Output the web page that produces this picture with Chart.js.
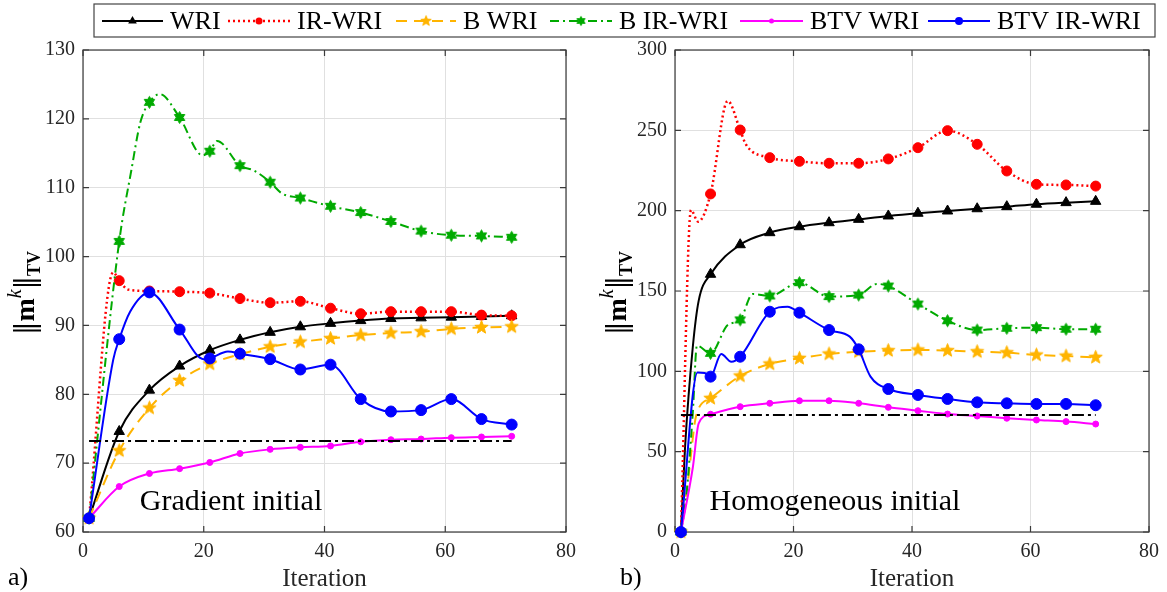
<!DOCTYPE html>
<html>
<head>
<meta charset="utf-8">
<script src="https://cdn.jsdelivr.net/npm/chart.js@4.4.1/dist/chart.umd.min.js"></script>
<style>
  html, body { margin: 0; padding: 0; background: #fff; }
  #wrap { position: relative; width: 1167px; height: 592px; overflow: hidden; }
  canvas { position: absolute; top: 0; }
</style>
</head>
<body>
<div id="wrap">
  <canvas id="gradChart" width="590" height="592" style="left:0"></canvas>
  <canvas id="homChart" width="577" height="592" style="left:590px"></canvas>
  <canvas id="legend" width="1167" height="45" style="left:0"></canvas>
</div>
<script>
const FONT = '"Liberation Serif", "DejaVu Serif", serif';

const seriesNames = ['WRI', 'IR-WRI', 'B WRI', 'B IR-WRI', 'BTV WRI', 'BTV IR-WRI'];
const iterTicks = [0, 20, 40, 60, 80];

// a) Gradient initial
const gradWRI_x = [1, 6, 11, 16, 21, 26, 31, 36, 41, 46, 51, 56, 61, 66, 71];
const gradWRI_y = [62, 74.6, 80.6, 84.1, 86.4, 87.9, 89.0, 89.8, 90.3, 90.7, 91.0, 91.1, 91.2, 91.3, 91.4];
const gradIR_x = [1, 5, 6, 7.5, 11, 16, 21, 26, 31, 36, 41, 46, 51, 56, 61, 66, 71];
const gradIR_y = [62, 97.7, 96.5, 95.2, 95.0, 94.9, 94.7, 93.9, 93.3, 93.5, 92.5, 91.7, 92.0, 92.0, 92.0, 91.5, 91.4];
const gradBW_x = [1, 6, 11, 16, 21, 26, 31, 36, 41, 46, 51, 56, 61, 66, 71];
const gradBW_y = [62, 71.8, 78.0, 82.0, 84.4, 85.8, 86.9, 87.6, 88.1, 88.6, 88.9, 89.1, 89.5, 89.7, 89.8];
const gradBIR_x = [1, 6, 8, 9.5, 11, 12.7, 16, 19.8, 21, 22.2, 26, 28.3, 31, 32.9, 36, 41, 46, 51, 56, 61, 66, 71];
const gradBIR_y = [62, 102.2, 112.5, 119.5, 122.4, 123.6, 120.2, 114.7, 115.3, 116.8, 113.2, 112.5, 110.8, 109.2, 108.5, 107.3, 106.4, 105.1, 103.7, 103.1, 103.0, 102.8];
const gradBTVW_x = [1, 6, 11, 16, 21, 26, 31, 36, 41, 46, 51, 56, 61, 66, 71];
const gradBTVW_y = [62, 66.6, 68.5, 69.2, 70.1, 71.4, 72.0, 72.3, 72.5, 73.1, 73.4, 73.5, 73.7, 73.8, 73.9];
const gradBTVIR_x = [1, 5, 6, 7.8, 11, 16, 20, 21, 24, 26, 31, 36, 41, 46, 51, 56, 61, 66, 71];
const gradBTVIR_y = [62, 85, 88.0, 92.0, 94.8, 89.4, 85.1, 85.2, 86.2, 85.9, 85.1, 83.6, 84.3, 79.3, 77.5, 77.7, 79.3, 76.4, 75.6];
const gradRef_x = [1, 71];
const gradRef_y = [73.2, 73.2];

// b) Homogeneous initial
const homWRI_x = [1, 1.7, 3, 4, 6, 11, 16, 21, 26, 31, 36, 41, 46, 51, 56, 61, 66, 71];
const homWRI_y = [0, 53, 115, 144, 160.4, 178.8, 186.3, 190.0, 192.5, 194.6, 196.7, 198.4, 199.8, 201.2, 202.5, 204.0, 205.0, 205.8];
const homIR_x = [1, 2.7, 3.9, 6, 8.9, 11, 12, 16, 21, 26, 31, 36, 41, 46, 51, 56, 61, 66, 71];
const homIR_y = [0, 200.4, 193.1, 210.4, 268.3, 250.2, 241, 233.0, 230.7, 229.5, 229.5, 232.2, 239.2, 249.8, 241.3, 224.7, 216.4, 216.0, 215.3];
const homBW_x = [1, 2.2, 3.6, 6, 11, 16, 21, 26, 31, 36, 41, 46, 51, 56, 61, 66, 71];
const homBW_y = [0, 32, 72.8, 83.2, 97.1, 104.6, 108.1, 110.8, 112.2, 112.9, 113.3, 112.9, 112.2, 111.6, 110.2, 109.5, 108.7];
const homBIR_x = [1, 1.9, 3, 3.7, 6, 8.9, 11, 13.1, 16, 21, 26, 31, 34.1, 36, 41, 46, 51, 56, 61, 66, 71];
const homBIR_y = [0, 22, 74, 116, 111.2, 128.8, 132.0, 148.1, 146.9, 155.2, 146.5, 147.5, 154.4, 153.1, 141.9, 131.5, 125.7, 126.8, 127.2, 126.2, 126.2];
const homBTVW_x = [1, 3, 4, 6, 11, 16, 21, 26, 31, 36, 41, 46, 51, 56, 61, 66, 71];
const homBTVW_y = [0, 40, 67.6, 73.3, 78.0, 80.1, 81.7, 81.7, 80.1, 77.6, 75.5, 73.4, 72.2, 70.8, 69.7, 68.7, 67.2];
const homBTVIR_x = [1, 3.8, 5, 6, 7.8, 9.5, 11, 16, 19, 21, 26, 29.5, 31, 33, 36, 41, 46, 51, 56, 61, 66, 71];
const homBTVIR_y = [0, 99.2, 99, 96.7, 110.8, 106, 109.1, 137.1, 140.2, 136.5, 125.7, 121.6, 113.7, 96.7, 89.0, 85.3, 82.8, 80.7, 80.1, 79.7, 79.7, 78.9];
const homRef_x = [1, 71];
const homRef_y = [72.8, 72.8];

// marker images for the star shapes
function starImage(n, rOut, rIn, color) {
  const s = Math.ceil(rOut * 2 + 3);
  const c = document.createElement('canvas');
  c.width = s; c.height = s;
  const g = c.getContext('2d');
  g.fillStyle = color; g.strokeStyle = color; g.lineWidth = 1;
  g.beginPath();
  for (let i = 0; i < 2 * n; i++) {
    const r = i % 2 ? rIn : rOut;
    const a = -Math.PI / 2 + i * Math.PI / n;
    const px = s / 2 + r * Math.cos(a), py = s / 2 + r * Math.sin(a);
    if (i) g.lineTo(px, py); else g.moveTo(px, py);
  }
  g.closePath(); g.fill(); g.stroke();
  return c;
}

const styles = [
  { color: '#000000', width: 2, dash: [], marker: 'triangle', size: 6 },
  { color: '#ff0000', width: 2.5, dash: [2, 3], marker: 'circle', size: 5 },
  { color: '#ffb400', width: 2, dash: [11, 7], marker: starImage(5, 7, 3, '#ffb400'), size: 6 },
  { color: '#00aa00', width: 2, dash: [9, 4, 2, 4], marker: starImage(6, 6, 3.4, '#00aa00'), size: 5 },
  { color: '#ff00ff', width: 2, dash: [], marker: 'circle', size: 3 },
  { color: '#0000ff', width: 2, dash: [], marker: 'circle', size: 5.5 }
];

function series(i, xs, ys) {
  const st = styles[i];
  return {
    label: seriesNames[i],
    data: xs.map((x, k) => ({ x: x, y: ys[k] })),
    borderColor: st.color,
    backgroundColor: st.color,
    borderWidth: st.width,
    borderDash: st.dash,
    pointStyle: st.marker,
    pointBackgroundColor: st.color,
    pointBorderColor: st.color,
    pointBorderWidth: 1,
    pointRadius: c => ((c.raw.x - 1) % 5 === 0 ? st.size : 0),
    cubicInterpolationMode: 'monotone',
    clip: false,
    order: 6 - i
  };
}

function refLine(xs, ys) {
  return {
    label: 'ref',
    data: xs.map((x, k) => ({ x: x, y: ys[k] })),
    borderColor: '#000', borderWidth: 2, borderDash: [12, 4, 3, 4],
    pointRadius: 0, clip: false, order: -1
  };
}

const boxPlugin = {
  id: 'axesBox',
  beforeDatasetsDraw(chart) {
    const { ctx, chartArea: a, scales } = chart;
    ctx.save();
    ctx.strokeStyle = '#3a3a3a';
    ctx.lineWidth = 1.2;
    ctx.strokeRect(a.left, a.top, a.right - a.left, a.bottom - a.top);
    ctx.beginPath();
    scales.x.ticks.forEach(t => {
      const px = scales.x.getPixelForValue(t.value);
      ctx.moveTo(px, a.bottom); ctx.lineTo(px, a.bottom - 6);
      ctx.moveTo(px, a.top); ctx.lineTo(px, a.top + 6);
    });
    scales.y.ticks.forEach(t => {
      const py = scales.y.getPixelForValue(t.value);
      ctx.moveTo(a.left, py); ctx.lineTo(a.left + 6, py);
      ctx.moveTo(a.right, py); ctx.lineTo(a.right - 6, py);
    });
    ctx.stroke();
    ctx.restore();
  }
};

function drawNormLabel(ctx, baseX, cy) {
  const bars = '27px "DejaVu Serif", serif';
  const parts = [
    { t: '\u2016', f: bars, dy: 0 },
    { t: 'm', f: 'bold 28px ' + FONT, dy: 0 },
    { t: 'k', f: 'italic 20px ' + FONT, dy: -13 },
    { t: '\u2016', f: bars, dy: 0 },
    { t: 'TV', f: 'bold 18px ' + FONT, dy: 6 }
  ];
  ctx.save();
  ctx.translate(baseX, cy);
  ctx.rotate(-Math.PI / 2);
  ctx.fillStyle = '#000';
  ctx.textBaseline = 'alphabetic';
  let total = 0;
  parts.forEach(p => { ctx.font = p.f; p.w = ctx.measureText(p.t).width; total += p.w; });
  let x = -total / 2;
  parts.forEach(p => { ctx.font = p.f; ctx.fillText(p.t, x, p.dy); x += p.w; });
  ctx.restore();
}

function textPlugin(cfg) {
  return {
    id: 'panelText',
    afterDraw(chart) {
      const ctx = chart.ctx;
      drawNormLabel(ctx, cfg.labelX, 293);
      ctx.save();
      ctx.fillStyle = '#000';
      ctx.textBaseline = 'alphabetic';
      ctx.font = '26px ' + FONT;
      ctx.textAlign = 'left';
      ctx.fillText(cfg.letter, cfg.letterX, 585);
      ctx.font = '30px ' + FONT;
      ctx.textAlign = 'center';
      ctx.fillText(cfg.caption, cfg.captionX, 510);
      ctx.restore();
    }
  };
}

function options(yMin, yMax, yStep, yWidth, padRight) {
  const tickFont = { family: FONT, size: 20 };
  return {
    responsive: false,
    animation: false,
    devicePixelRatio: 1,
    layout: { padding: { top: 50, right: padRight, left: 0, bottom: 0 } },
    plugins: { legend: { display: false }, tooltip: { enabled: false } },
    scales: {
      x: {
        type: 'linear', min: 0, max: 80,
        afterBuildTicks: s => { s.ticks = iterTicks.map(v => ({ value: v })); },
        ticks: { color: '#262626', font: tickFont, padding: 8, maxRotation: 0 },
        grid: { color: '#e0e0e0', drawTicks: false },
        border: { display: false },
        title: { display: true, text: 'Iteration', color: '#262626',
                 font: { family: FONT, size: 25, lineHeight: 1 }, padding: 0 },
        afterFit: s => { s.height = 60; }
      },
      y: {
        type: 'linear', min: yMin, max: yMax,
        ticks: { stepSize: yStep, color: '#262626', font: tickFont, padding: 8 },
        grid: { color: '#e0e0e0', drawTicks: false },
        border: { display: false },
        afterFit: s => { s.width = yWidth; }
      }
    }
  };
}

new Chart(document.getElementById('gradChart'), {
  type: 'line',
  data: {
    datasets: [
      series(0, gradWRI_x, gradWRI_y),
      series(1, gradIR_x, gradIR_y),
      series(2, gradBW_x, gradBW_y),
      series(3, gradBIR_x, gradBIR_y),
      series(4, gradBTVW_x, gradBTVW_y),
      series(5, gradBTVIR_x, gradBTVIR_y),
      refLine(gradRef_x, gradRef_y)
    ]
  },
  options: options(60, 130, 10, 83, 24),
  plugins: [boxPlugin, textPlugin({ labelX: 34, letter: 'a)', letterX: 8, caption: 'Gradient initial', captionX: 231 })]
});

new Chart(document.getElementById('homChart'), {
  type: 'line',
  data: {
    datasets: [
      series(0, homWRI_x, homWRI_y),
      series(1, homIR_x, homIR_y),
      series(2, homBW_x, homBW_y),
      series(3, homBIR_x, homBIR_y),
      series(4, homBTVW_x, homBTVW_y),
      series(5, homBTVIR_x, homBTVIR_y),
      refLine(homRef_x, homRef_y)
    ]
  },
  options: options(0, 300, 50, 85, 11),
  plugins: [boxPlugin, textPlugin({ labelX: 36, letter: 'b)', letterX: 30, caption: 'Homogeneous initial', captionX: 245 })]
});

// shared legend across the top
(function drawLegend() {
  const ctx = document.getElementById('legend').getContext('2d');
  const spans = [[102, 163], [228, 290], [396, 456], [550, 612], [740, 803], [928, 990]];
  const y = 21;
  ctx.fillStyle = '#fff';
  ctx.fillRect(94, 4, 1061, 33);
  ctx.strokeStyle = '#444';
  ctx.lineWidth = 1.2;
  ctx.strokeRect(94, 4, 1061, 33);
  styles.forEach((st, i) => {
    const [x0, x1] = spans[i];
    ctx.save();
    ctx.strokeStyle = st.color;
    ctx.lineWidth = st.width;
    ctx.setLineDash(st.dash);
    ctx.beginPath(); ctx.moveTo(x0, y); ctx.lineTo(x1, y); ctx.stroke();
    ctx.setLineDash([]);
    const mx = (x0 + x1) / 2;
    ctx.fillStyle = st.color;
    if (st.marker === 'circle') {
      ctx.beginPath(); ctx.arc(mx, y, Math.max(2.5, st.size - 1.5), 0, Math.PI * 2); ctx.fill();
    } else if (st.marker === 'triangle') {
      const r = st.size - 1;
      ctx.beginPath();
      ctx.moveTo(mx, y - r);
      ctx.lineTo(mx + r * 0.866, y + r * 0.5);
      ctx.lineTo(mx - r * 0.866, y + r * 0.5);
      ctx.closePath(); ctx.fill();
    } else {
      const im = st.marker;
      ctx.drawImage(im, mx - im.width * 0.4, y - im.height * 0.4, im.width * 0.8, im.height * 0.8);
    }
    ctx.fillStyle = '#000';
    ctx.font = '26px ' + FONT;
    ctx.textBaseline = 'middle';
    ctx.fillText(seriesNames[i], x1 + 7, y + 1);
    ctx.restore();
  });
})();
</script>
</body>
</html>
